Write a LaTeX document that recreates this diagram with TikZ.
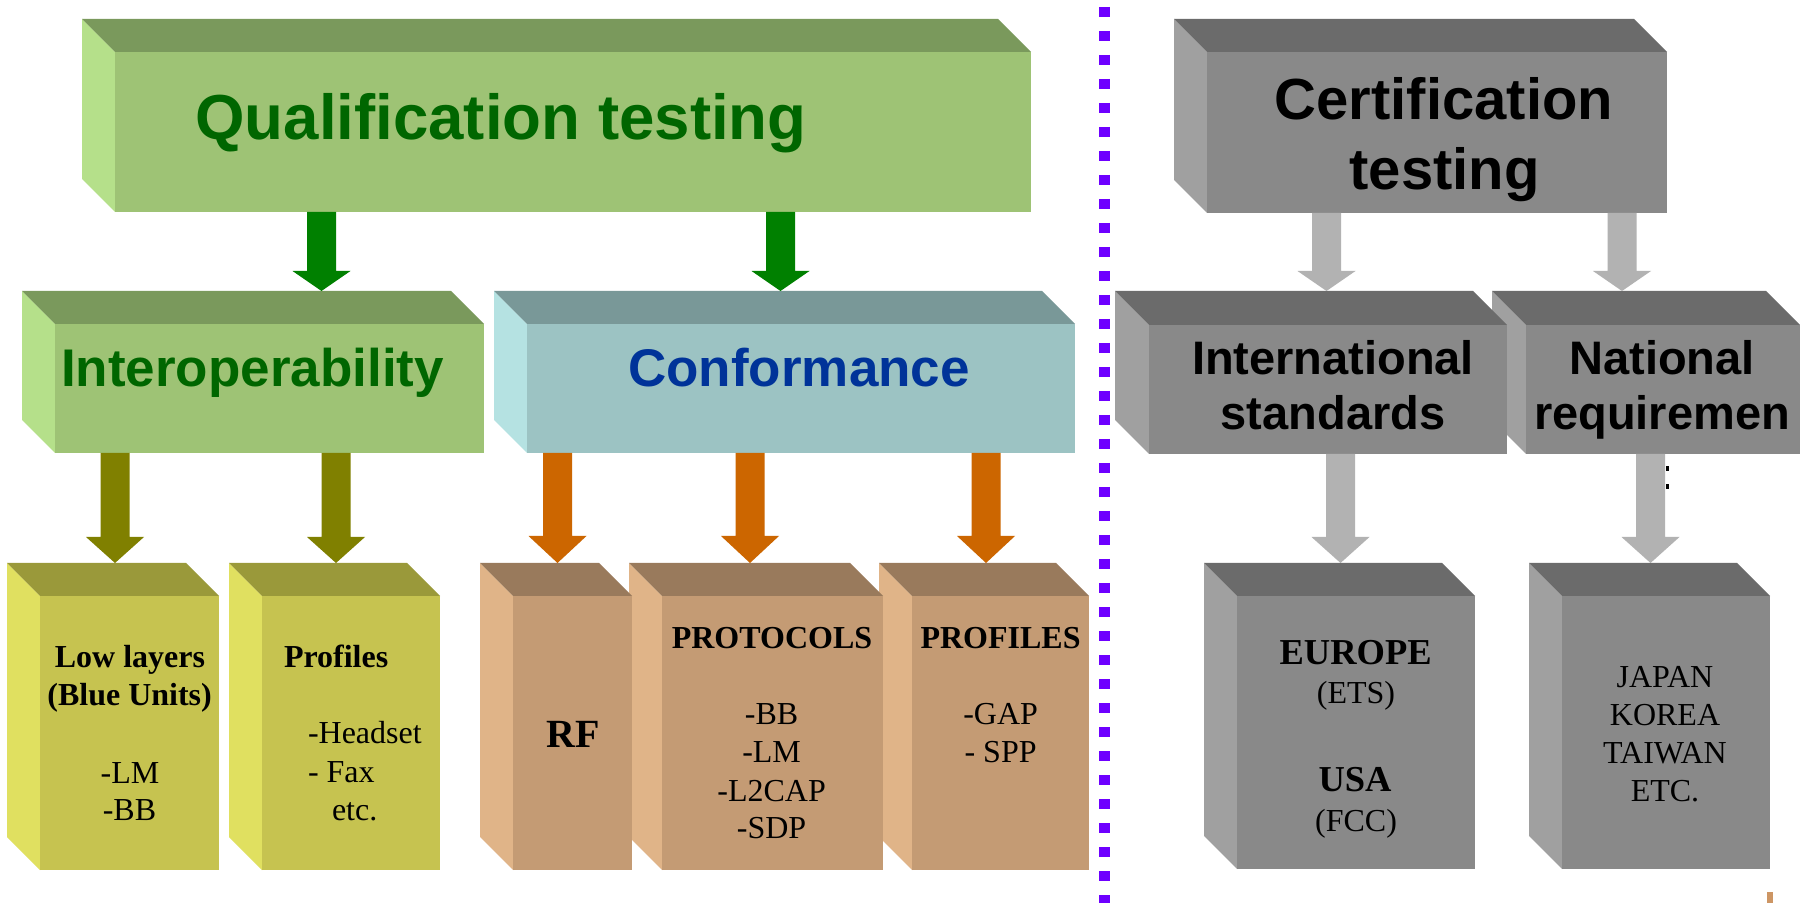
\documentclass[tikz,border=0pt]{standalone}
\usepackage{fontspec}
\setmainfont{Liberation Serif}
\newfontfamily\hsans{Liberation Sans}
\usetikzlibrary{calc,fit}
\definecolor{qfront}{RGB}{158,195,117}
\definecolor{qtop}{RGB}{122,153,92}
\definecolor{qside}{RGB}{181,224,138}
\definecolor{qtext}{RGB}{0,102,0}
\definecolor{cfront}{RGB}{156,195,195}
\definecolor{ctop}{RGB}{121,152,152}
\definecolor{cside}{RGB}{181,226,226}
\definecolor{ctext}{RGB}{0,51,153}
\definecolor{yfront}{RGB}{198,195,80}
\definecolor{ytop}{RGB}{154,153,58}
\definecolor{yside}{RGB}{224,224,96}
\definecolor{bfront}{RGB}{196,155,116}
\definecolor{btop}{RGB}{153,122,92}
\definecolor{bside}{RGB}{224,180,136}
\definecolor{gfront}{RGB}{137,137,137}
\definecolor{gtop}{RGB}{107,107,107}
\definecolor{gside}{RGB}{160,160,160}
\definecolor{arrgreen}{RGB}{0,128,0}
\definecolor{arrolive}{RGB}{128,128,0}
\definecolor{arrorange}{RGB}{204,102,0}
\definecolor{arrgray}{RGB}{178,178,178}
\definecolor{divider}{RGB}{110,0,255}
\definecolor{barbrown}{RGB}{205,150,100}
\newcommand\cubebox[9]{%
  \fill[#9] (#2,#3) -- ({#2+#6},{#3+#6}) -- ({#2+#6},#5) -- (#2,{#5-#6}) -- cycle;
  \fill[#8] (#2,#3) -- ({#4-#6},#3) -- (#4,{#3+#6}) -- ({#2+#6},{#3+#6}) -- cycle;
  \fill[#7] ({#2+#6},{#3+#6}) rectangle (#4,#5);
  \node[fit={(#2,#3) (#4,#5)}, inner sep=0pt, outer sep=0pt] (#1) {};
}
\newcommand\fatarrow[5]{%
  \coordinate (tip) at ($(#3.north)+(#4,0)$);
  \coordinate (tail) at (tip |- #2.south);
  \fill[#1] ($(tail)+(-14.5,0)$) -- ($(tip)+(-14.5,-#5)$) -- ($(tip)+(-29,-#5)$) -- (tip)
    -- ($(tip)+(29,-#5)$) -- ($(tip)+(14.5,-#5)$) -- ($(tail)+(14.5,0)$) -- cycle;
}
\tikzset{
  lbl/.style={inner sep=0pt, outer sep=0pt, anchor=base},
  lblw/.style={inner sep=0pt, outer sep=0pt, anchor=base west},
  bigtitle/.style={lbl, font={\hsans\bfseries\fontsize{31.8pt}{38pt}\selectfont}},
  midtitle/.style={lbl, font={\hsans\bfseries\fontsize{26.5pt}{32pt}\selectfont}},
  certtitle/.style={lbl, font={\hsans\bfseries\fontsize{29pt}{35pt}\selectfont}},
  graytitle/.style={lbl, font={\hsans\bfseries\fontsize{23.5pt}{28pt}\selectfont}},
  boldtxt/.style={lbl, font={\bfseries\fontsize{16pt}{19pt}\selectfont}},
  boldtxtw/.style={lblw, font={\bfseries\fontsize{16pt}{19pt}\selectfont}},
  plaintxt/.style={lbl, font={\fontsize{16pt}{19pt}\selectfont}},
  plaintxtw/.style={lblw, font={\fontsize{16pt}{19pt}\selectfont}},
  bigbold/.style={lbl, font={\bfseries\fontsize{18.25pt}{22pt}\selectfont}},
  rfbold/.style={lbl, font={\bfseries\fontsize{20pt}{24pt}\selectfont}},
}
\begin{document}
\begin{tikzpicture}[x=0.5pt, y=-0.5pt]
\useasboundingbox (0,0) rectangle (1800,903);
\clip (0,0) rectangle (1800,903);
\fill[white] (0,0) rectangle (1800,903);

% top boxes
\cubebox{qual}{82}{19}{1031}{212}{33}{qfront}{qtop}{qside}
\cubebox{cert}{1174}{19}{1667}{213}{33}{gfront}{gtop}{gside}
% middle boxes
\cubebox{inter}{22}{291}{484}{453}{33}{qfront}{qtop}{qside}
\cubebox{conf}{494}{291}{1075}{453}{33}{cfront}{ctop}{cside}
\cubebox{natl}{1492}{291}{1800}{454}{34}{gfront}{gtop}{gside}
\cubebox{intl}{1115}{291}{1507}{454}{34}{gfront}{gtop}{gside}
% bottom boxes
\cubebox{prof}{229}{563}{440}{870}{33}{yfront}{ytop}{yside}
\cubebox{low}{7}{563}{219}{870}{33}{yfront}{ytop}{yside}
\cubebox{profs}{879}{563}{1089}{870}{33}{bfront}{btop}{bside}
\cubebox{proto}{629}{563}{883}{870}{33}{bfront}{btop}{bside}
\cubebox{rf}{480}{563}{632}{870}{33}{bfront}{btop}{bside}
\cubebox{europe}{1204}{563}{1475}{869}{33}{gfront}{gtop}{gside}
\cubebox{japan}{1529}{563}{1770}{869}{33}{gfront}{gtop}{gside}

% arrows
\fatarrow{arrgreen}{qual}{inter}{68.5}{20}
\fatarrow{arrgreen}{qual}{conf}{-4}{20}
\fatarrow{arrolive}{inter}{low}{2}{26}
\fatarrow{arrolive}{inter}{prof}{1.5}{26}
\fatarrow{arrorange}{conf}{rf}{1.5}{27}
\fatarrow{arrorange}{conf}{proto}{-6}{27}
\fatarrow{arrorange}{conf}{profs}{2}{27}
\fatarrow{arrgray}{cert}{intl}{15.5}{20}
\fatarrow{arrgray}{cert}{natl}{-24}{20}
\fatarrow{arrgray}{intl}{europe}{1}{26}
\fatarrow{arrgray}{natl}{japan}{1}{26}

% divider
\draw[divider, line width=5.25pt, dash pattern=on 5pt off 7pt] (1104.5,7) -- (1104.5,903);

% titles
\node[bigtitle, text=qtext] (tq) at (501,140) {Qualification testing};
\node[midtitle, text=qtext] (ti) at (252.5,387) {Interoperability};
\node[midtitle, text=ctext] (tc) at (799,387) {Conformance};
\node[certtitle] (tc1) at (1444,119.5) {Certification};
\node[certtitle] (tc2) at (1444.5,189.5) {testing};
\node[graytitle] (tin1) at (1333,375) {International};
\node[graytitle] (tin2) at (1333,430) {standards};
\node[graytitle] (tna1) at (1662,375) {National};
\node[graytitle] (tna2) at (1662,430) {requiremen};

% low layers
\node[boldtxt] (l1) at (130,668) {Low layers};
\node[boldtxt] (l2) at (129.6,705) {(Blue Units)};
\node[plaintxt] (l3) at (130,783) {-LM};
\node[plaintxt] (l4) at (129.5,820) {-BB};
% profiles
\node[boldtxtw] (p1) at (284,668) {Profiles};
\node[plaintxtw] (p2) at (308,743) {-Headset};
\node[plaintxtw] (p3) at (308,782) {- Fax};
\node[plaintxtw] (p4) at (332,820) {etc.};
% RF
\node[rfbold] (r1) at (573,747) {RF};
% protocols
\node[boldtxt] (pr1) at (772,648) {PROTOCOLS};
\node[plaintxt] (pr2) at (771.6,724) {-BB};
\node[plaintxt] (pr3) at (771.6,762.7) {-LM};
\node[plaintxt] (pr4) at (771.6,801) {-L2CAP};
\node[plaintxt] (pr5) at (771.6,838) {-SDP};
% PROFILES
\node[boldtxt] (pf1) at (1000.6,648) {PROFILES};
\node[plaintxt] (pf2) at (1000.6,724) {-GAP};
\node[plaintxt] (pf3) at (1000.6,762.7) {- SPP};
% europe
\node[bigbold] (e1) at (1355.6,664) {EUROPE};
\node[plaintxt] (e2) at (1356,703) {(ETS)};
\node[bigbold] (e3) at (1355,791) {USA};
\node[plaintxt] (e4) at (1356,831) {(FCC)};
% japan
\node[plaintxt] (j1) at (1665,687) {JAPAN};
\node[plaintxt] (j2) at (1665,725) {KOREA};
\node[plaintxt] (j3) at (1665,763) {TAIWAN};
\node[plaintxt] (j4) at (1665,801.5) {ETC.};

% small marks
\fill[black] (1666,466) rectangle (1669,471);
\fill[black] (1666,484) rectangle (1669,489);
\fill[barbrown] (1767,892) rectangle (1773,903);
\end{tikzpicture}
\end{document}
